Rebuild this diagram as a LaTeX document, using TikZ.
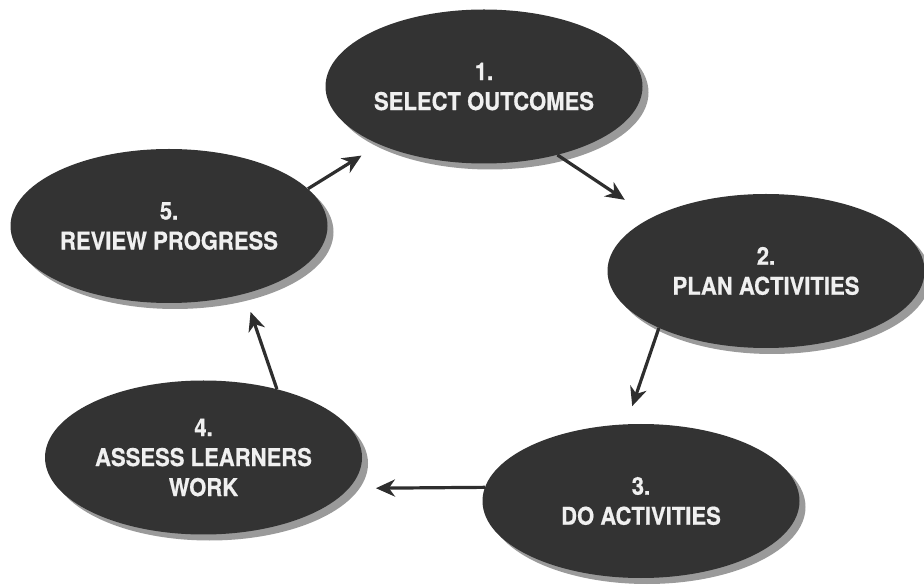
\documentclass[tikz,border=0pt]{standalone}
\usepackage{fontspec}
\newfontfamily\stagefont{TeX Gyre Heros}[FakeStretch=0.9,FakeBold=0.6]
\usetikzlibrary{arrows.meta,shapes.geometric,shadows}
\definecolor{stagefill}{HTML}{333333}
\definecolor{stageshadow}{HTML}{9A9A9A}
\definecolor{flowline}{HTML}{2E2E2E}
\begin{document}
\begin{tikzpicture}[x=1pt,y=1pt,
  stage/.style={ellipse, fill=stagefill, minimum width=317pt, minimum height=154pt,
    inner sep=0pt, align=center, text=white!94!black,
    font=\stagefont\bfseries\fontsize{24.5}{30}\selectfont,
    drop shadow={shadow xshift=6pt, shadow yshift=-6pt, fill=stageshadow, opacity=1}},
  flow/.style={draw=flowline, line width=3.2pt,
    -{Stealth[length=19pt,width=17pt,inset=6pt]}}]
\useasboundingbox (0,0) rectangle (924,584);
\node (selectOutcomes) [stage] at (484,497.5) {1.\\SELECT OUTCOMES};
\node (planActivities) [stage] at (766,313) {2.\\PLAN ACTIVITIES};
\node (doActivities) [stage] at (641,83) {3.\\DO ACTIVITIES};
\node (assessWork) [stage] at (203.5,126.5) {4.\\ASSESS LEARNERS\\WORK};
\node (reviewProgress) [stage] at (169,358) {5.\\REVIEW PROGRESS};

\draw [flow, shorten >=32pt] (selectOutcomes.-43) -- (planActivities.155.4);
\draw [flow, shorten >=19pt] (planActivities.208.7) -- (doActivities.101.5);
\draw [flow, shorten >=27pt] (doActivities.175) -- (assessWork.-12);
\draw [flow, shorten >=19pt] (assessWork.43) -- (reviewProgress.-42);
\draw [flow, shorten >=21pt] (reviewProgress.15) -- (selectOutcomes.209);
\end{tikzpicture}
\end{document}
